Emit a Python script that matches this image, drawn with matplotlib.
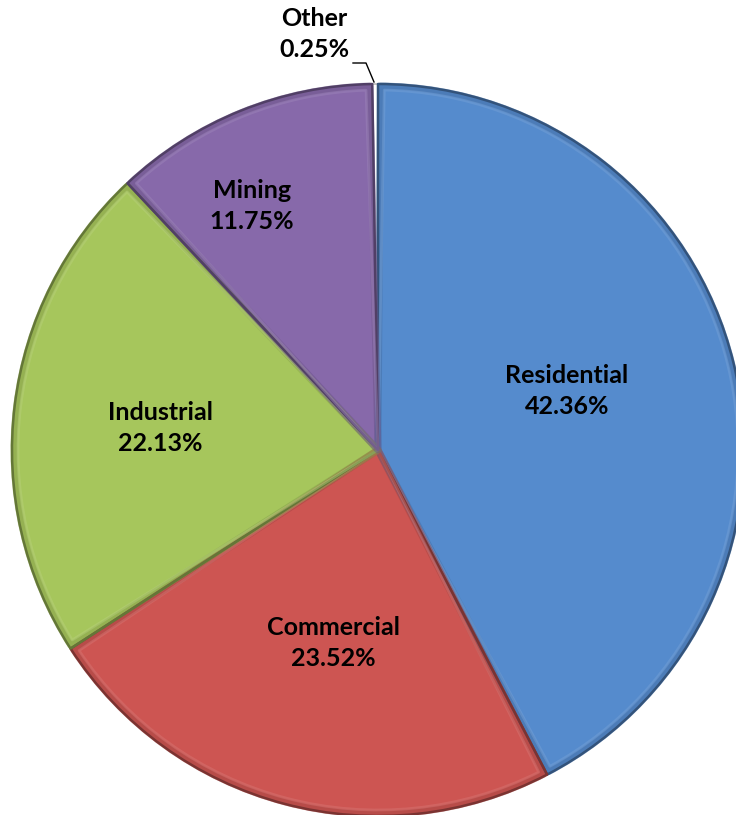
import numpy as np
import matplotlib.pyplot as plt
from matplotlib.patches import Wedge

# slices, clockwise from 12 o'clock
names = ["Residential", "Commercial", "Industrial", "Mining", "Other"]
shares = [42.36, 23.52, 22.13, 11.75, 0.25]
colors = ["#558BCD", "#CD5552", "#A6C65C", "#8769AA", "#FFFFFF"]

# label centres in pixel coordinates (y down)
label_xy = [(567, 391), (333, 643), (160, 428), (252, 206), (314, 34)]

W, H = 736, 815
cx, cy, R = 378, 450, 366

fig = plt.figure(figsize=(W / 100, H / 100), dpi=100)
ax = fig.add_axes([0, 0, 1, 1])


def darker(c, f):
    r, g, b = plt.matplotlib.colors.to_rgb(c)
    return (r * f, g * f, b * f)


def lighter(c, f):
    r, g, b = plt.matplotlib.colors.to_rgb(c)
    return (r + (1 - r) * f, g + (1 - g) * f, b + (1 - b) * f)


wedges, _ = ax.pie(shares, colors=colors, startangle=90, counterclock=False,
                   center=(cx, H - cy), radius=R, frame=True,
                   wedgeprops=dict(edgecolor="none", linewidth=0))
ax.set_xlim(0, W)
ax.set_ylim(0, H)
ax.set_aspect("equal")
ax.axis("off")

# soft bevel: dark outer rim and a faint inner highlight
for w, c in zip(wedges, colors):
    if c == "#FFFFFF":
        w.set_edgecolor("#9a9a9a")
        w.set_linewidth(0.8)
        continue
    ax.add_patch(Wedge(w.center, w.r - 2, w.theta1 + 0.4, w.theta2 - 0.4,
                       facecolor="none", edgecolor=darker(c, 0.8),
                       linewidth=5, alpha=0.5, joinstyle="round"))
    ax.add_patch(Wedge(w.center, w.r, w.theta1, w.theta2, facecolor="none",
                       edgecolor=darker(c, 0.6), linewidth=1.8, joinstyle="round"))
    ax.add_patch(Wedge(w.center, w.r - 6, w.theta1 + 1.0, w.theta2 - 1.0,
                       facecolor="none", edgecolor=lighter(c, 0.2),
                       linewidth=2, alpha=0.45, joinstyle="round"))

for name, v, (x, y) in zip(names, shares, label_xy):
    ax.text(x, H - y, f"{name}\n{v:.2f}%", ha="center", va="center",
            fontsize=18, fontweight="bold", family="Lato", linespacing=1.45,
            color="black")

# leader line for the tiny slice
ax.plot([353, 366, 374], [H - 63, H - 63, H - 82], color="black", linewidth=1)

fig.savefig("out.png", dpi=100)
